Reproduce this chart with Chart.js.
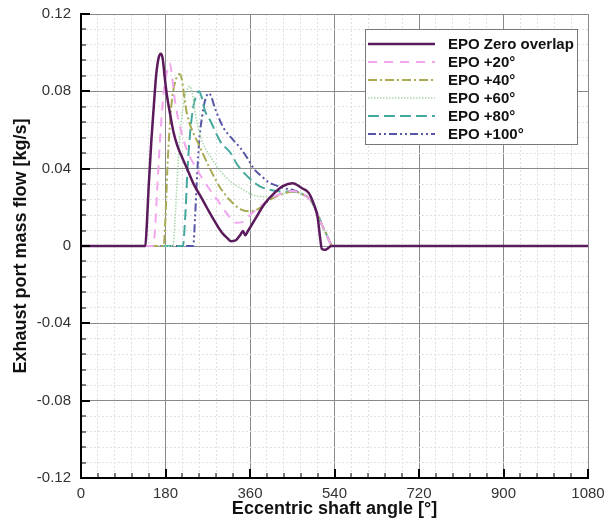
<!DOCTYPE html>
<html>
<head>
<meta charset="utf-8">
<script src="https://cdn.jsdelivr.net/npm/chart.js@4"></script>
<style>
  body { margin: 0; background: #fff; }
  canvas { display: block; }
</style>
</head>
<body>
<canvas id="chart" width="609" height="525"></canvas>
<script>
// DATA (angle in degrees, mass flow in kg/s)
const seriesNames = ["EPO Zero overlap", "EPO +20°", "EPO +40°", "EPO +60°", "EPO +80°", "EPO +100°"];

const zeroAngle = [0,137,140,144,150,155,160,165,170,174,178,183,190,197,205,215,226,240,254,270,283,300,312,320,330,340,345,350,355,370,390,410,430,451,470,485,497,504,509,513,520,527,533,1080];
const zeroFlow = [0,0,0.01,0.03,0.055,0.072,0.088,0.097,0.0995,0.097,0.088,0.078,0.068,0.059,0.052,0.046,0.04,0.032,0.026,0.019,0.0135,0.007,0.004,0.0025,0.003,0.006,0.0078,0.0055,0.0075,0.0135,0.0215,0.027,0.031,0.0325,0.030,0.0275,0.021,0.015,0.005,-0.0015,-0.002,-0.001,0,0];

const epo20Angle = [0,154,158,162,166,172,178,184,189,193,198,205,215,225,246,269,290,304,318,330,345,360,390,420,451,470,490,504,515,522,530,536,1080];
const epo20Flow = [0,0,0.01,0.028,0.045,0.068,0.083,0.091,0.0945,0.09,0.079,0.068,0.058,0.05,0.04,0.031,0.024,0.019,0.0145,0.012,0.0125,0.016,0.022,0.0265,0.0285,0.027,0.0235,0.0165,0.01,0.0065,0.002,0,0];

const epo40Angle = [0,176,180,184,189,195,202,210,215,220,226,240,250,261,283,297,320,340,361,380,397,420,451,470,490,504,515,522,530,536,1080];
const epo40Flow = [0,0,0.015,0.04,0.062,0.078,0.086,0.089,0.086,0.077,0.068,0.058,0.053,0.047,0.036,0.030,0.023,0.019,0.018,0.0195,0.023,0.026,0.028,0.027,0.0235,0.0165,0.01,0.0065,0.002,0,0];

const epo60Angle = [0,196,200,205,211,218,225,232,237,244,252,261,279,297,320,340,360,376,395,411,430,451,470,490,504,515,522,530,536,1080];
const epo60Flow = [0,0,0.012,0.035,0.058,0.073,0.080,0.0826,0.079,0.068,0.059,0.0525,0.045,0.0387,0.033,0.030,0.027,0.0258,0.0255,0.0258,0.0272,0.0284,0.027,0.0235,0.0165,0.01,0.0065,0.002,0,0];

const epo80Angle = [0,217,222,227,233,240,246,251,257,264,276,297,319,333,361,380,404,430,451,470,490,504,515,522,530,536,1080];
const epo80Flow = [0,0,0.015,0.04,0.06,0.073,0.078,0.080,0.077,0.070,0.0645,0.054,0.048,0.042,0.0345,0.031,0.029,0.0282,0.0282,0.027,0.0235,0.0165,0.01,0.0065,0.002,0,0];

const epo100Angle = [0,239,243,247,252,258,264,272,278,283,294,304,320,340,354,368,385,400,420,440,451,470,490,504,515,522,530,536,1080];
const epo100Flow = [0,0,0.015,0.035,0.055,0.067,0.075,0.079,0.077,0.073,0.066,0.061,0.056,0.0505,0.0456,0.040,0.036,0.033,0.031,0.0295,0.029,0.027,0.0235,0.0165,0.01,0.0065,0.002,0,0];

const xTickLabels = [0, 180, 360, 540, 720, 900, 1080];
const yTickLabels = [-0.12, -0.08, -0.04, 0, 0.04, 0.08, 0.12];

const FONT = "'Liberation Sans', Arial, sans-serif";

function pts(xs, ys) {
  return xs.map((x, i) => ({ x: x, y: ys[i] }));
}

function isMajorX(v) { return xTickLabels.some(t => Math.abs(t - v) < 1e-6); }
function isMajorY(v) { return yTickLabels.some(t => Math.abs(t - v) < 1e-6); }

// legend drawn inside the plot, top right
const legendBox = {
  id: "legendBox",
  afterDraw(chart) {
    const ctx = chart.ctx;
    const area = chart.chartArea;
    const x0 = area.right - 223, y0 = area.top + 15;
    ctx.save();
    ctx.fillStyle = "#fff";
    ctx.fillRect(x0, y0, 212, 115);
    ctx.strokeStyle = "#777";
    ctx.lineWidth = 1;
    ctx.strokeRect(x0 + 0.5, y0 + 0.5, 212, 115);
    ctx.font = "bold 15px " + FONT;
    ctx.textBaseline = "middle";
    chart.data.datasets.forEach((ds, i) => {
      const y = y0 + 15 + i * 18;
      ctx.strokeStyle = ds.borderColor;
      ctx.lineWidth = ds.borderWidth;
      ctx.setLineDash(ds.borderDash || []);
      ctx.beginPath();
      ctx.moveTo(x0 + 3, y);
      ctx.lineTo(x0 + 70, y);
      ctx.stroke();
      ctx.setLineDash([]);
      ctx.fillStyle = "#111";
      ctx.fillText(ds.label, x0 + 83, y + 1);
    });
    ctx.restore();
  }
};

// tick marks pointing into the plot
const innerTicks = {
  id: "innerTicks",
  afterDatasetsDraw(chart) {
    const { ctx, chartArea, scales } = chart;
    ctx.save();
    ctx.strokeStyle = "#000";
    scales.x.ticks.forEach(t => {
      const px = Math.round(scales.x.getPixelForValue(t.value));
      const major = isMajorX(t.value);
      ctx.lineWidth = major ? 2 : 1;
      ctx.beginPath();
      ctx.moveTo(px, chartArea.bottom);
      ctx.lineTo(px, chartArea.bottom - (major ? 9 : 5));
      ctx.stroke();
    });
    scales.y.ticks.forEach(t => {
      const py = Math.round(scales.y.getPixelForValue(t.value));
      const major = isMajorY(t.value);
      ctx.lineWidth = major ? 2 : 1;
      ctx.beginPath();
      ctx.moveTo(chartArea.left, py);
      ctx.lineTo(chartArea.left + (major ? 9 : 5), py);
      ctx.stroke();
    });
    ctx.restore();
  }
};

const ctx = document.getElementById("chart");

new Chart(ctx, {
  type: "line",
  data: {
    datasets: [
      { label: seriesNames[0], data: pts(zeroAngle, zeroFlow), borderColor: "#5a1a5c", borderWidth: 2.5, borderDash: [] },
      { label: seriesNames[1], data: pts(epo20Angle, epo20Flow), borderColor: "#f2a6ee", borderWidth: 2, borderDash: [9, 7] },
      { label: seriesNames[2], data: pts(epo40Angle, epo40Flow), borderColor: "#a9aa52", borderWidth: 2, borderDash: [9, 3, 2, 3] },
      { label: seriesNames[3], data: pts(epo60Angle, epo60Flow), borderColor: "#a6d6a6", borderWidth: 1.5, borderDash: [1.5, 1.5] },
      { label: seriesNames[4], data: pts(epo80Angle, epo80Flow), borderColor: "#45a89e", borderWidth: 2, borderDash: [11, 5] },
      { label: seriesNames[5], data: pts(epo100Angle, epo100Flow), borderColor: "#5656a6", borderWidth: 2, borderDash: [8, 3, 2, 3, 2, 3] }
    ]
  },
  options: {
    responsive: false,
    animation: false,
    events: [],
    elements: {
      point: { radius: 0 },
      line: { cubicInterpolationMode: "monotone", fill: false }
    },
    layout: { padding: { left: 0, right: 21, top: 14, bottom: 0 } },
    plugins: {
      legend: { display: false },
      tooltip: { enabled: false }
    },
    scales: {
      x: {
        type: "linear",
        min: 0,
        max: 1080,
        afterFit: s => { s.height = 47; s.paddingLeft = 0; s.paddingRight = 0; },
        ticks: {
          stepSize: 36,
          autoSkip: false,
          maxRotation: 0,
          padding: 7,
          color: "#333",
          font: { family: FONT, size: 15 },
          callback: v => isMajorX(v) ? String(v) : ""
        },
        grid: {
          drawTicks: false,
          color: c => (c.tick && isMajorX(c.tick.value)) ? "#8a8a8a" : "#e0e0e0",
          lineWidth: 1
        },
        border: {
          color: "#000",
          width: 2,
          dash: c => (c.tick && !isMajorX(c.tick.value)) ? [2, 2] : []
        },
        title: {
          display: true,
          text: "Eccentric shaft angle [°]",
          color: "#111",
          font: { family: FONT, size: 18, weight: "bold" },
          padding: { top: 0, bottom: 5 }
        }
      },
      y: {
        min: -0.12,
        max: 0.12,
        afterFit: s => { s.width = 81; s.paddingTop = 0; s.paddingBottom = 0; },
        ticks: {
          stepSize: 0.008,
          autoSkip: false,
          padding: 10,
          color: "#333",
          font: { family: FONT, size: 15 },
          callback: v => isMajorY(v) ? String(parseFloat(v.toFixed(2))) : ""
        },
        grid: {
          drawTicks: false,
          color: c => (c.tick && isMajorY(c.tick.value)) ? "#8a8a8a" : "#e0e0e0",
          lineWidth: 1
        },
        border: {
          color: "#000",
          width: 2,
          dash: c => (c.tick && !isMajorY(c.tick.value)) ? [2, 2] : []
        },
        title: {
          display: true,
          text: "Exhaust port mass flow [kg/s]",
          color: "#111",
          font: { family: FONT, size: 18, weight: "bold" },
          padding: { top: 10, bottom: 0 }
        }
      }
    }
  },
  plugins: [innerTicks, legendBox]
});
</script>
</body>
</html>
